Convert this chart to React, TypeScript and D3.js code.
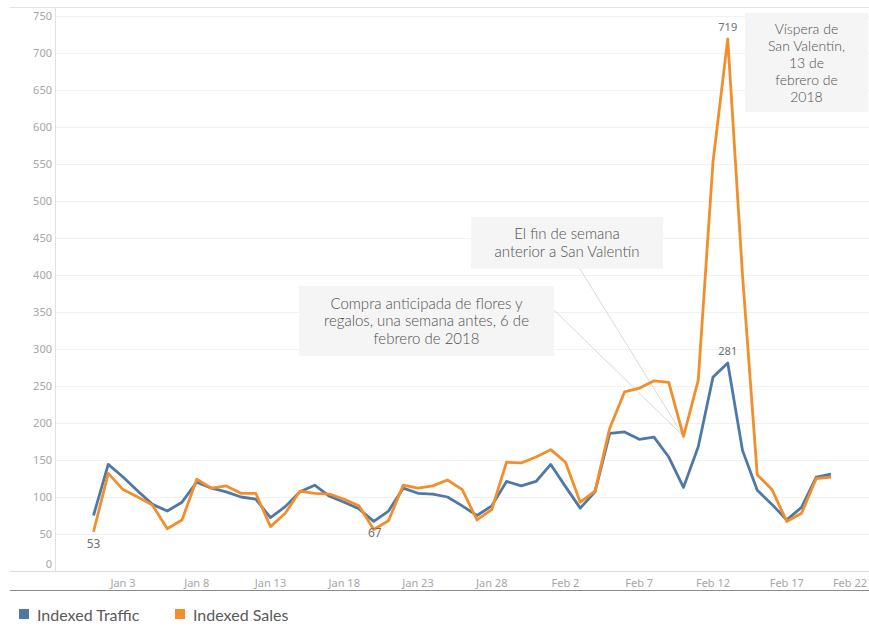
import { useEffect, useRef } from 'react';
import * as d3 from 'd3';

// Daily index, Jan 1 – Feb 20 2018
const START = new Date(2018, 0, 1);
const END = new Date(2018, 1, 21);

const traffic = [
  75, 144, 127, 108, 90, 81, 93, 120, 112, 107, 100, 97, 72, 87, 107, 116, 101,
  93, 84, 67, 81, 112, 105, 104, 100, 88, 75, 88, 121, 115, 121, 144, 114, 85,
  107, 186, 188, 178, 181, 154, 113, 168, 262, 281, 163, 109, 90, 69, 86, 127, 131,
];
const sales = [
  53, 132, 110, 100, 89, 57, 69, 124, 112, 115, 105, 105, 60, 78, 108, 105, 104,
  97, 88, 56, 68, 116, 112, 115, 123, 110, 69, 83, 147, 146, 154, 164, 147, 93,
  108, 193, 242, 247, 257, 255, 182, 258, 553, 719, 400, 130, 110, 67, 78, 125, 127,
];

const xTicks = ['2018-01-03', '2018-01-08', '2018-01-13', '2018-01-18', '2018-01-23', '2018-01-28',
  '2018-02-02', '2018-02-07', '2018-02-12', '2018-02-17', '2018-02-22'];
const yTicks = [0, 50, 100, 150, 200, 250, 300, 350, 400, 450, 500, 550, 600, 650, 700, 750];

const seriesNames = ['Indexed Traffic', 'Indexed Sales'];
const seriesColors = ['#4e79a7', '#f28e2b'];

const notes = [
  { lines: ['Víspera de', 'San Valentín,', '13 de', 'febrero de', '2018'], box: [745, 13, 868, 112] },
  { lines: ['El fin de semana', 'anterior a San Valentín'], box: [471, 217, 663, 269] },
  { lines: ['Compra anticipada de flores y', 'regalos, una semana antes, 6 de', 'febrero de 2018'], box: [299, 286, 554, 356] },
];

const W = 869;
const H = 626;

export default function App() {
  const ref = useRef<SVGSVGElement>(null);

  useEffect(() => {
    if (!ref.current) return;
    const days = d3.timeDay.range(START, END);
    const parse = d3.timeParse('%Y-%m-%d');

    const x = d3.scaleTime()
      .domain([days[0], days[days.length - 1]])
      .range([93.5, 831]);
    const y = d3.scaleLinear().domain([0, 750]).range([571, 16]);

    const svg = d3.select(ref.current);
    svg.selectAll('*').remove();

    const tickFont = '"Noto Sans", sans-serif';
    const noteFont = 'Lato, sans-serif';

    // frame
    svg.append('line').attr('x1', 10).attr('x2', W).attr('y1', 7.5).attr('y2', 7.5)
      .attr('stroke', '#e3e3e3');

    // gridlines
    svg.append('g').selectAll('line')
      .data(yTicks.filter(t => t > 0))
      .join('line')
      .attr('x1', 56).attr('x2', W)
      .attr('y1', d => Math.round(y(d)) + 0.5).attr('y2', d => Math.round(y(d)) + 0.5)
      .attr('stroke', '#f2f2f2');

    svg.append('line').attr('x1', 55.5).attr('x2', 55.5).attr('y1', 8).attr('y2', 571)
      .attr('stroke', '#e0e0e0');
    svg.append('line').attr('x1', 10).attr('x2', W).attr('y1', 571.5).attr('y2', 571.5)
      .attr('stroke', '#dcdcdc');
    svg.append('line').attr('x1', 10).attr('x2', W).attr('y1', 590.5).attr('y2', 590.5)
      .attr('stroke', '#8c8c8c');

    // y labels
    svg.append('g').selectAll('text')
      .data(yTicks)
      .join('text')
      .attr('x', 52)
      .attr('y', d => y(d) + 4 - (d === 0 ? 7 : 0))
      .attr('text-anchor', 'end')
      .style('font-family', tickFont)
      .style('font-size', '11px')
      .style('fill', '#a6a6a6')
      .text(d => d);

    // x labels
    const fmt = d3.timeFormat('%b %-d');
    const xl = svg.append('g').selectAll('text')
      .data(xTicks.map(s => parse(s) as Date))
      .join('text')
      .attr('x', d => x(d))
      .attr('y', 587)
      .attr('text-anchor', 'middle')
      .style('font-family', tickFont)
      .style('font-size', '11px')
      .style('fill', '#a6a6a6')
      .text(d => fmt(d));
    xl.each(function (d) {
      const t = this as SVGTextElement;
      const w = t.getComputedTextLength();
      if (x(d) + w / 2 > W - 2) t.setAttribute('x', String(W - 2 - w / 2));
    });

    // annotation leader lines to Feb 10
    const target = [x(days[40]), y(sales[40])];
    svg.append('line').attr('x1', 580).attr('y1', 269).attr('x2', target[0]).attr('y2', target[1])
      .attr('stroke', '#d9d9d9').attr('stroke-width', 1);
    svg.append('line').attr('x1', 554).attr('y1', 310).attr('x2', target[0]).attr('y2', target[1])
      .attr('stroke', '#d9d9d9').attr('stroke-width', 1);

    // lines
    const line = d3.line<number>()
      .x((_, i) => x(days[i]))
      .y(d => y(d));
    [traffic, sales].forEach((s, i) => {
      svg.append('path')
        .attr('d', line(s) as string)
        .attr('fill', 'none')
        .attr('stroke', seriesColors[i])
        .attr('stroke-width', 2.8)
        .attr('stroke-linejoin', 'round');
    });

    // annotation boxes
    notes.forEach(n => {
      const [x0, y0, x1, y1] = n.box;
      svg.append('rect').attr('x', x0).attr('y', y0).attr('width', x1 - x0).attr('height', y1 - y0)
        .attr('fill', '#f5f5f5');
      const tall = n.lines.length === 5;
      const lh = tall ? 17 : 17.5;
      const top = (y0 + y1) / 2 - (lh * (n.lines.length - 1)) / 2;
      svg.append('g').selectAll('text')
        .data(n.lines)
        .join('text')
        .attr('x', (x0 + x1) / 2)
        .attr('y', (_, i) => top + i * lh + 5)
        .attr('text-anchor', 'middle')
        .style('font-family', noteFont)
        .style('font-size', tall ? '14px' : '15px')
        .style('font-weight', 300)
        .style('fill', '#505050')
        .text(d => d);
    });

    // mark labels
    const peak = sales.indexOf(d3.max(sales) as number);
    const tPeak = traffic.indexOf(d3.max(traffic) as number);
    svg.append('rect').attr('x', x(days[peak]) - 12).attr('y', y(sales[peak]) - 19)
      .attr('width', 25).attr('height', 14).attr('fill', '#fff');
    const labels = [
      { t: sales[peak], x: x(days[peak]), y: y(sales[peak]) - 8, size: 11 },
      { t: traffic[tPeak], x: x(days[tPeak]), y: y(traffic[tPeak]) - 8, size: 11 },
      { t: sales[0], x: x(days[0]), y: y(sales[0]) + 16, size: 12 },
      { t: traffic[19], x: x(days[19]) + 1, y: y(traffic[19]) + 16, size: 12 },
    ];
    svg.append('g').selectAll('text')
      .data(labels)
      .join('text')
      .attr('x', d => d.x)
      .attr('y', d => d.y)
      .attr('text-anchor', 'middle')
      .style('font-family', tickFont)
      .style('font-size', d => `${d.size}px`)
      .style('fill', '#707070')
      .text(d => d.t);

    // legend
    const lg = svg.append('g').attr('transform', 'translate(19, 609)');
    [0, 156].forEach((ox, i) => {
      lg.append('rect').attr('x', ox).attr('y', 0).attr('width', 10).attr('height', 10)
        .attr('fill', seriesColors[i]);
      lg.append('text').attr('x', ox + 18).attr('y', 12)
        .style('font-family', noteFont)
        .style('font-size', '16px')
        .style('fill', '#595959')
        .text(seriesNames[i]);
    });
  }, []);

  return (
    <svg ref={ref} width={W} height={H}
      style={{ position: 'absolute', left: 0, top: 0, display: 'block', background: '#fff' }} />
  );
}
